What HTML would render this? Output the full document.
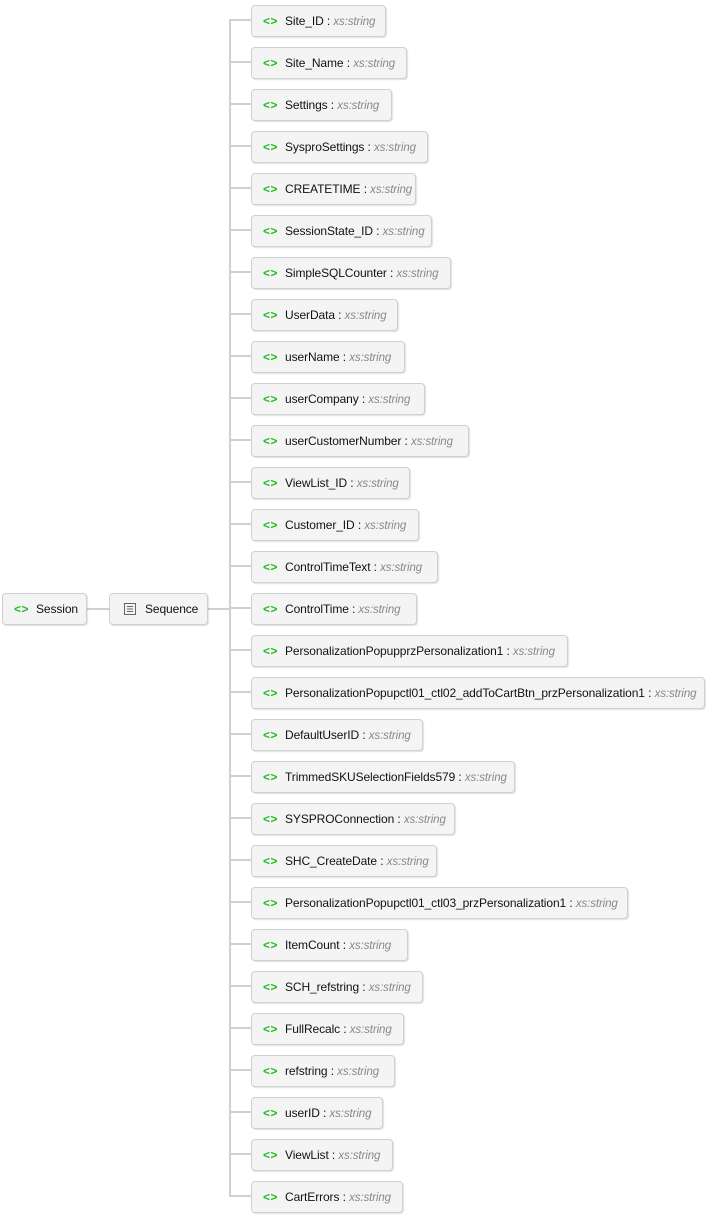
<!DOCTYPE html>
<html><head><meta charset="utf-8"><style>
body{margin:0;width:706px;height:1218px;background:#fff;position:relative;overflow:hidden;font-family:"Liberation Sans",sans-serif;}
.b{position:absolute;height:32px;box-sizing:border-box;background:#f4f4f4;border:1px solid #d0d0d0;border-radius:4px;box-shadow:1px 1px 1px rgba(0,0,0,0.12);font-size:12px;letter-spacing:-0.1px;color:#111;line-height:30px;white-space:nowrap;overflow:hidden;padding-left:11px}
.i{color:#22bb22;font-weight:bold;letter-spacing:0.5px;margin-right:7px}
.t{color:#888;font-style:italic;font-size:11.5px}
.h{position:absolute;height:2px;background:#d0d0d0}
.v{position:absolute;width:2px;background:#d0d0d0}
</style></head><body>
<div class="h" style="left:87px;top:608px;width:22px"></div>
<div class="h" style="left:208px;top:608px;width:22px"></div>
<div class="v" style="left:229px;top:20px;height:1177px"></div>
<div class="b" style="left:2px;top:593px;width:85px"><span class="i">&lt;&gt;</span>Session</div>
<div class="b" style="left:109px;top:593px;width:99px;padding-left:14px"><svg width="12" height="12" style="vertical-align:-2px;margin-right:9px"><rect x="0.5" y="0.5" width="11" height="11" fill="#f4f4f4" stroke="#666"/><path d="M3 3.5h6M3 6h6M3 8.5h6" stroke="#666"/></svg>Sequence</div>
<div id="c"></div>
<script>
var d=[["Site_ID",386],["Site_Name",407],["Settings",392],["SysproSettings",428],["CREATETIME",416],["SessionState_ID",432],["SimpleSQLCounter",451],["UserData",398],["userName",405],["userCompany",425],["userCustomerNumber",469],["ViewList_ID",410],["Customer_ID",419],["ControlTimeText",438],["ControlTime",417],["PersonalizationPopupprzPersonalization1",568],["PersonalizationPopupctl01_ctl02_addToCartBtn_przPersonalization1",705],["DefaultUserID",423],["TrimmedSKUSelectionFields579",515],["SYSPROConnection",455],["SHC_CreateDate",437],["PersonalizationPopupctl01_ctl03_przPersonalization1",628],["ItemCount",408],["SCH_refstring",423],["FullRecalc",404],["refstring",395],["userID",383],["ViewList",393],["CartErrors",403]];
var h="";
for(var k=0;k<d.length;k++){var y=20+42*k;
h+='<div class="h" style="left:229px;top:'+(y-1)+'px;width:22px"></div>';
h+='<div class="b" style="left:251px;top:'+(y-15)+'px;width:'+(d[k][1]-251)+'px"><span class="i">&lt;&gt;</span>'+d[k][0]+' : <span class="t">xs:string</span></div>';}
document.getElementById("c").innerHTML=h;
</script>
</body></html>
